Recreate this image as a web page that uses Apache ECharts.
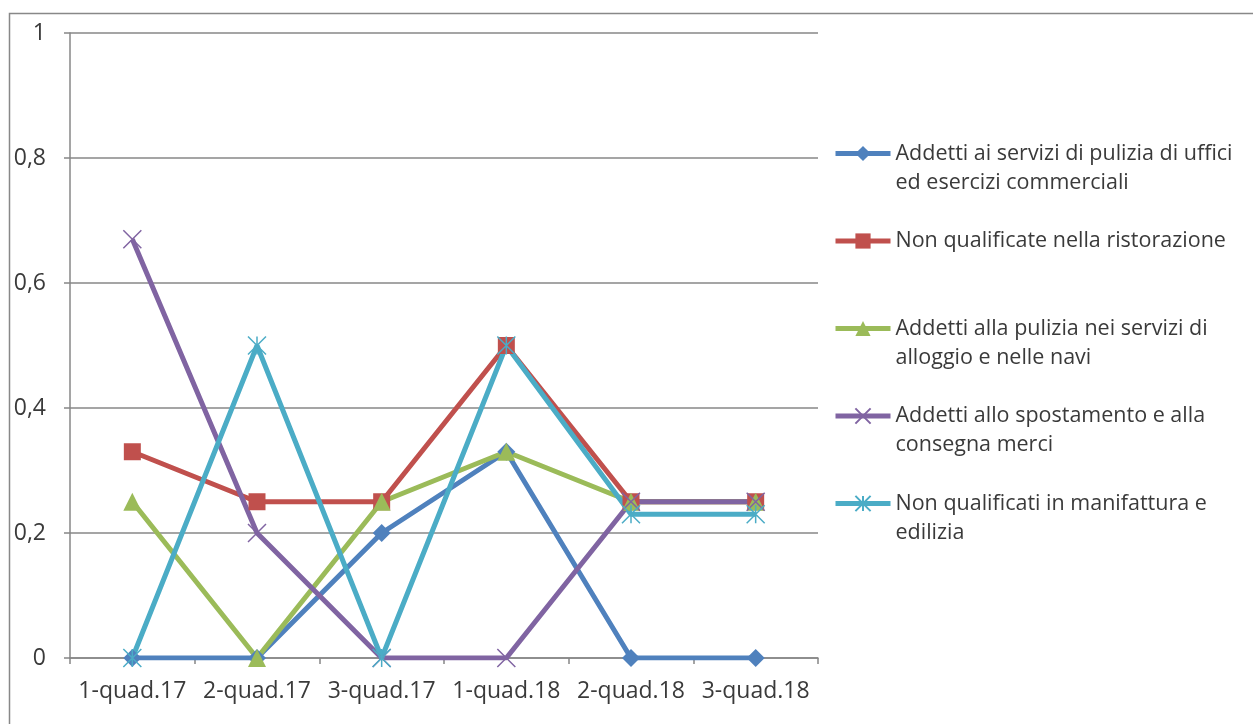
<!DOCTYPE html>
<html><head><meta charset="utf-8">
<script src="https://cdn.jsdelivr.net/npm/echarts@6/dist/echarts.min.js"></script>
<style>html,body{margin:0;padding:0;background:#fff}#c{width:1253px;height:724px}</style>
</head><body><div id="c"></div>
<script>
const categories = ['1-quad.17','2-quad.17','3-quad.17','1-quad.18','2-quad.18','3-quad.18'];
const seriesNames = [
  'Addetti ai servizi di pulizia di uffici ed esercizi commerciali',
  'Non qualificate nella ristorazione',
  'Addetti alla pulizia nei servizi di alloggio e nelle navi',
  'Addetti allo spostamento e alla consegna merci',
  'Non qualificati in manifattura e edilizia'
];
const legendLabels = [
  ['Addetti ai servizi di pulizia di uffici','ed esercizi commerciali'],
  ['Non qualificate nella ristorazione'],
  ['Addetti alla pulizia nei servizi di','alloggio e nelle navi'],
  ['Addetti allo spostamento e alla','consegna merci'],
  ['Non qualificati in manifattura e','edilizia']
];
const pulizaUffici = [0, 0, 0.2, 0.33, 0, 0];
const ristorazione = [0.33, 0.25, 0.25, 0.5, 0.25, 0.25];
const puliziaAlloggio = [0.25, 0, 0.25, 0.33, 0.25, 0.25];
const spostamento = [0.67, 0.2, 0, 0, 0.25, 0.25];
const manifattura = [0, 0.5, 0, 0.5, 0.23, 0.23];
const yTicks = [0, 0.2, 0.4, 0.6, 0.8, 1];

const colors = ['#4F81BD','#C0504D','#9BBB59','#8064A2','#4BACC6'];
const symbols = ['diamond','rect','triangle','path://M0,0L10,10M10,0L0,10','path://M0,0L10,10M10,0L0,10M5,0L5,10'];
const sizes = [18,17,18,18,18];
const values = [pulizaUffici, ristorazione, puliziaAlloggio, spostamento, manifattura];
const FONT = 'Open Sans';
const TEXT = '#3a3a3a';

const chart = echarts.init(document.getElementById('c'), null, {renderer:'canvas'});
const series = values.map((v,i)=>({
  name: seriesNames[i], type:'line', data:v, symbol:symbols[i], symbolSize:sizes[i],
  showAllSymbol:true, animation:false,
  lineStyle:{color:colors[i], width:5},
  itemStyle: i>=3 ? {color:colors[i], borderColor:colors[i], borderWidth:1.5} : {color:colors[i]}
}));
const labelMap = {};
seriesNames.forEach((n,i)=>{ labelMap[n] = legendLabels[i].length===2 ? '\n'+legendLabels[i].join('\n') : '\n'+legendLabels[i][0]+'\n '; });

chart.setOption({
  animation:false,
  color: colors,
  graphic:[{type:'rect', shape:{x:9.5,y:13.5,width:1400,height:900}, style:{fill:'none', stroke:'#888', lineWidth:1.5}, silent:true}],
  grid:{left:70, top:33, right:435, bottom:66},
  legend:{
    orient:'vertical', left:833, top:110, itemGap:0.5, itemWidth:55, itemHeight:19, padding:0,
    data: seriesNames,
    lineStyle:{width:5},
    formatter: n => labelMap[n],
    textStyle:{fontFamily:FONT, fontSize:21.5, color:TEXT, lineHeight:29}
  },
  xAxis:{
    type:'category', data:categories, boundaryGap:true,
    axisLine:{lineStyle:{color:'#878787', width:1.5}},
    axisTick:{show:true, length:6, lineStyle:{color:'#878787', width:1.5}},
    axisLabel:{fontFamily:FONT, fontSize:23, color:TEXT, margin:22, interval:0}
  },
  yAxis:{
    type:'value', min:0, max:1, interval:0.2,
    axisLine:{show:true, lineStyle:{color:'#878787', width:1.5}},
    axisTick:{show:true, length:6, lineStyle:{color:'#878787', width:1.5}},
    splitLine:{lineStyle:{color:'#878787', width:1.5}},
    axisLabel:{fontFamily:FONT, fontSize:23, color:TEXT, margin:24,
      formatter: v => String(+v.toFixed(1)).replace('.',',')}
  },
  series
});
</script></body></html>
